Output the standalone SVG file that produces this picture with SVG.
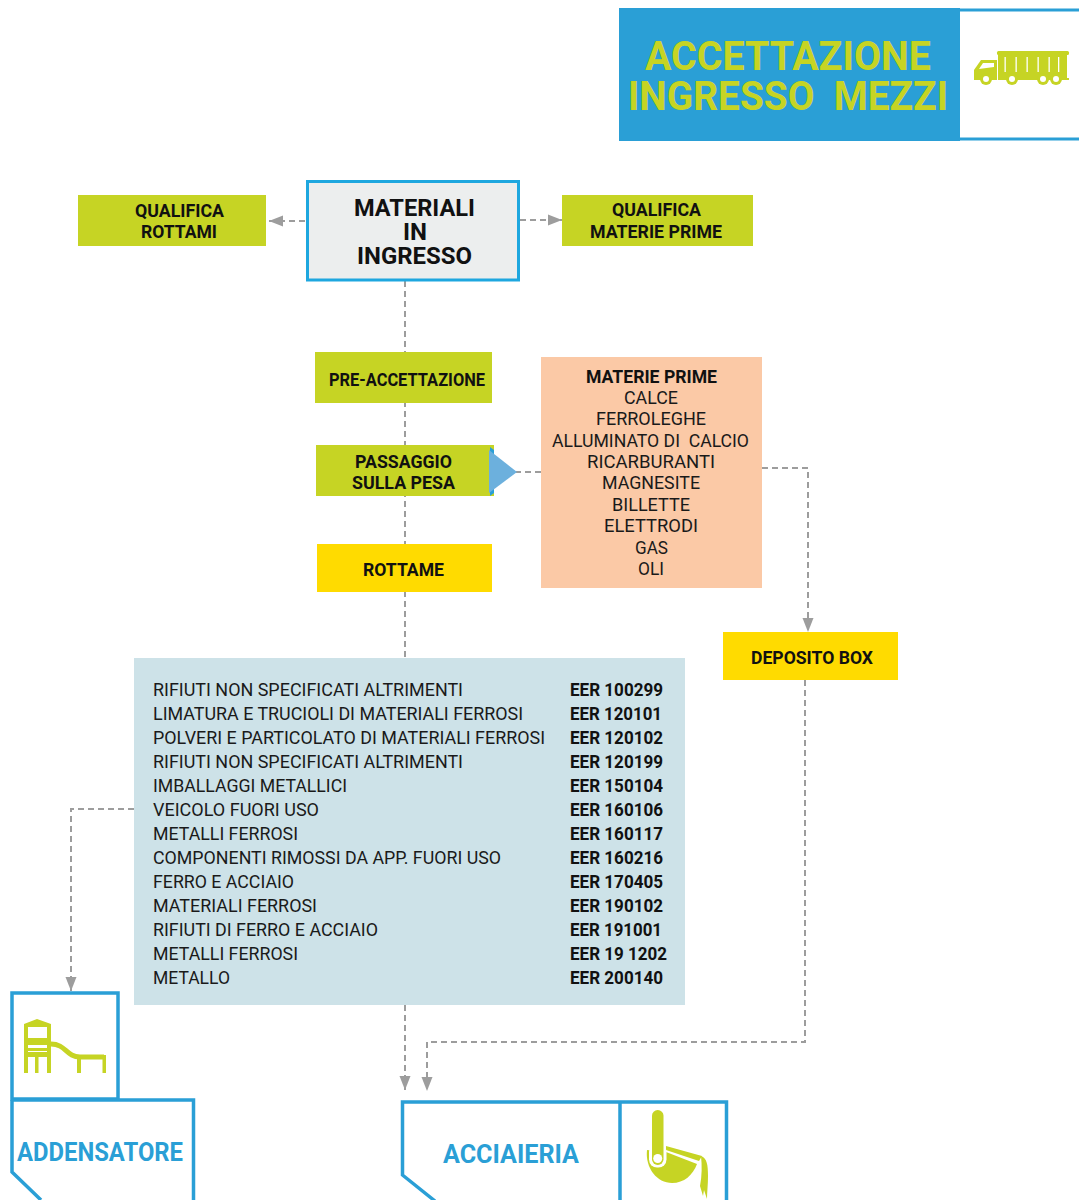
<svg xmlns="http://www.w3.org/2000/svg" width="1079" height="1200" viewBox="0 0 1079 1200">
<defs>
<style>
text{font-family:Roboto,"Liberation Sans",sans-serif;white-space:pre}
.b{font-weight:700;fill:#111;font-size:18px}
.big{font-weight:700;fill:#111;font-size:24px}
.r{font-weight:400;fill:#1a1a1a;font-size:18px}
.h{font-weight:700;fill:#c6d424;font-size:40px}
.t{font-weight:700;fill:#2a9fd6;font-size:25px}
.c{fill:none;stroke:#9d9d9d;stroke-width:2;stroke-dasharray:6 4}
.o{fill:none;stroke:#2a9fd6;stroke-width:3.5}
.g{fill:#c6d424}
.ol{fill:none;stroke:#c6d424}
.w{fill:#fff}
</style>
<marker id="a" markerUnits="userSpaceOnUse" markerWidth="14" markerHeight="12" refX="14" refY="6" orient="auto"><path d="M0 0.500L14 6L0 11.500Z" fill="#9d9d9d"/></marker>
</defs>
<rect width="1079" height="1200" fill="#fff"/>
<g id="connectors">
<path class="c" d="M405 281V658"/>
<path class="c" d="M520 220H562" marker-end="url(#a)"/>
<path class="c" d="M305 221H269" marker-end="url(#a)"/>
<path class="c" d="M541 472H516"/>
<path class="c" d="M762 468H808V632" marker-end="url(#a)"/>
<path class="c" d="M134 809H71V991" marker-end="url(#a)"/>
<path class="c" d="M805 680V1042H427V1091" marker-end="url(#a)"/>
<path class="c" d="M405 1005V1090" marker-end="url(#a)"/>
</g>
<g id="header">
<rect x="619" y="8" width="341" height="133" fill="#2a9fd6"/>
<path d="M960 10H1079M960 139H1079" fill="none" stroke="#2a9fd6" stroke-width="3"/>
<text class="h" x="645" y="70" textLength="286" lengthAdjust="spacingAndGlyphs">ACCETTAZIONE</text>
<text class="h" x="628" y="110" textLength="320" lengthAdjust="spacingAndGlyphs">INGRESSO  MEZZI</text>
<g id="truck-icon">
<rect class="g" x="997" y="51" width="72" height="4" rx="1.5"/>
<rect class="g" x="998" y="54" width="69" height="26"/>
<path class="g" d="M974 80V70L981 60H997V80Z"/>
<rect class="g" x="1000" y="78" width="69" height="2"/>
<path class="w" d="M979 69L983 63H994V67Z"/>
<rect class="w" x="1004.500" y="57" width="1.300" height="15"/><rect class="w" x="1015.500" y="57" width="1.300" height="15"/><rect class="w" x="1026.500" y="57" width="1.300" height="15"/><rect class="w" x="1037.500" y="57" width="1.300" height="15"/><rect class="w" x="1048.500" y="57" width="1.300" height="15"/><rect class="w" x="1058" y="57" width="1.300" height="15"/>
<circle class="g" cx="986" cy="79" r="6"/><circle class="w" cx="986" cy="79" r="3"/>
<circle class="g" cx="1012" cy="79" r="6"/><circle class="w" cx="1012" cy="79" r="3"/>
<circle class="g" cx="1043" cy="79" r="6"/><circle class="w" cx="1043" cy="79" r="3"/>
<circle class="g" cx="1056" cy="79" r="6"/><circle class="w" cx="1056" cy="79" r="3"/>
</g>
</g>
<g id="materiali">
<rect x="307.500" y="181.500" width="211" height="98.500" fill="#eceeee" stroke="#1ea7df" stroke-width="3"/>
<text class="big" x="354" y="216" textLength="121" lengthAdjust="spacingAndGlyphs">MATERIALI</text>
<text class="big" x="403" y="240" textLength="24" lengthAdjust="spacingAndGlyphs">IN</text>
<text class="big" x="357" y="264" textLength="115" lengthAdjust="spacingAndGlyphs">INGRESSO</text>
</g>
<g id="qualifica-rottami">
<rect class="g" x="78" y="195" width="188" height="51"/>
<text class="b" x="135" y="217" textLength="89" lengthAdjust="spacingAndGlyphs">QUALIFICA</text>
<text class="b" x="141" y="238" textLength="76" lengthAdjust="spacingAndGlyphs">ROTTAMI</text>
</g>
<g id="qualifica-materie">
<rect class="g" x="562" y="195" width="191" height="51"/>
<text class="b" x="612" y="216" textLength="89" lengthAdjust="spacingAndGlyphs">QUALIFICA</text>
<text class="b" x="590" y="238" textLength="132" lengthAdjust="spacingAndGlyphs">MATERIE PRIME</text>
</g>
<g id="pre-accettazione">
<rect class="g" x="315" y="352" width="177" height="51"/>
<text class="b" x="329" y="386" textLength="156" lengthAdjust="spacingAndGlyphs">PRE-ACCETTAZIONE</text>
</g>
<g id="pesa">
<rect class="g" x="316" y="445" width="178" height="51"/>
<text class="b" x="355" y="468" textLength="97" lengthAdjust="spacingAndGlyphs">PASSAGGIO</text>
<text class="b" x="352" y="489" textLength="103" lengthAdjust="spacingAndGlyphs">SULLA PESA</text>
<path d="M490 447L494 450V493L490 496Z" fill="#2a9fd6"/>
<path d="M489 450L517 472L489 493Z" fill="#6cb0dd"/>
</g>
<g id="rottame">
<rect x="317" y="544" width="175" height="48" fill="#ffdb00"/>
<text class="b" x="363" y="576" textLength="81" lengthAdjust="spacingAndGlyphs">ROTTAME</text>
</g>
<g id="materie-prime">
<rect x="541" y="357" width="221" height="231" fill="#fbc9a6"/>
<text class="b" x="586" y="383" textLength="131" lengthAdjust="spacingAndGlyphs">MATERIE PRIME</text>
<text class="r" x="624" y="404" textLength="54" lengthAdjust="spacingAndGlyphs">CALCE</text>
<text class="r" x="596" y="425" textLength="110" lengthAdjust="spacingAndGlyphs">FERROLEGHE</text>
<text class="r" x="552" y="447" textLength="197" lengthAdjust="spacingAndGlyphs">ALLUMINATO DI  CALCIO</text>
<text class="r" x="587" y="468" textLength="128" lengthAdjust="spacingAndGlyphs">RICARBURANTI</text>
<text class="r" x="602" y="489" textLength="98" lengthAdjust="spacingAndGlyphs">MAGNESITE</text>
<text class="r" x="612" y="511" textLength="78" lengthAdjust="spacingAndGlyphs">BILLETTE</text>
<text class="r" x="604" y="532" textLength="94" lengthAdjust="spacingAndGlyphs">ELETTRODI</text>
<text class="r" x="635" y="554" textLength="33" lengthAdjust="spacingAndGlyphs">GAS</text>
<text class="r" x="638" y="575" textLength="26" lengthAdjust="spacingAndGlyphs">OLI</text>
</g>
<g id="deposito-box">
<rect x="723" y="632" width="175" height="48" fill="#ffdb00"/>
<text class="b" x="751" y="664" textLength="122" lengthAdjust="spacingAndGlyphs">DEPOSITO BOX</text>
</g>
<g id="rifiuti">
<rect x="134" y="658" width="551" height="347" fill="#cde2e8"/>
<text class="r" x="153" y="696" textLength="310" lengthAdjust="spacingAndGlyphs">RIFIUTI NON SPECIFICATI ALTRIMENTI</text>
<text class="r" x="153" y="720" textLength="370" lengthAdjust="spacingAndGlyphs">LIMATURA E TRUCIOLI DI MATERIALI FERROSI</text>
<text class="r" x="153" y="744" textLength="392" lengthAdjust="spacingAndGlyphs">POLVERI E PARTICOLATO DI MATERIALI FERROSI</text>
<text class="r" x="153" y="768" textLength="310" lengthAdjust="spacingAndGlyphs">RIFIUTI NON SPECIFICATI ALTRIMENTI</text>
<text class="r" x="153" y="792" textLength="194" lengthAdjust="spacingAndGlyphs">IMBALLAGGI METALLICI</text>
<text class="r" x="153" y="816" textLength="166" lengthAdjust="spacingAndGlyphs">VEICOLO FUORI USO</text>
<text class="r" x="153" y="840" textLength="145" lengthAdjust="spacingAndGlyphs">METALLI FERROSI</text>
<text class="r" x="153" y="864" textLength="348" lengthAdjust="spacingAndGlyphs">COMPONENTI RIMOSSI DA APP. FUORI USO</text>
<text class="r" x="153" y="888" textLength="141" lengthAdjust="spacingAndGlyphs">FERRO E ACCIAIO</text>
<text class="r" x="153" y="912" textLength="164" lengthAdjust="spacingAndGlyphs">MATERIALI FERROSI</text>
<text class="r" x="153" y="936" textLength="225" lengthAdjust="spacingAndGlyphs">RIFIUTI DI FERRO E ACCIAIO</text>
<text class="r" x="153" y="960" textLength="145" lengthAdjust="spacingAndGlyphs">METALLI FERROSI</text>
<text class="r" x="153" y="984" textLength="77" lengthAdjust="spacingAndGlyphs">METALLO</text>
<text class="b" x="570" y="696" textLength="93" lengthAdjust="spacingAndGlyphs">EER 100299</text>
<text class="b" x="570" y="720" textLength="92" lengthAdjust="spacingAndGlyphs">EER 120101</text>
<text class="b" x="570" y="744" textLength="93" lengthAdjust="spacingAndGlyphs">EER 120102</text>
<text class="b" x="570" y="768" textLength="93" lengthAdjust="spacingAndGlyphs">EER 120199</text>
<text class="b" x="570" y="792" textLength="93" lengthAdjust="spacingAndGlyphs">EER 150104</text>
<text class="b" x="570" y="816" textLength="93" lengthAdjust="spacingAndGlyphs">EER 160106</text>
<text class="b" x="570" y="840" textLength="93" lengthAdjust="spacingAndGlyphs">EER 160117</text>
<text class="b" x="570" y="864" textLength="93" lengthAdjust="spacingAndGlyphs">EER 160216</text>
<text class="b" x="570" y="888" textLength="93" lengthAdjust="spacingAndGlyphs">EER 170405</text>
<text class="b" x="570" y="912" textLength="93" lengthAdjust="spacingAndGlyphs">EER 190102</text>
<text class="b" x="570" y="936" textLength="92" lengthAdjust="spacingAndGlyphs">EER 191001</text>
<text class="b" x="570" y="960" textLength="97" lengthAdjust="spacingAndGlyphs">EER 19 1202</text>
<text class="b" x="570" y="984" textLength="93" lengthAdjust="spacingAndGlyphs">EER 200140</text>
</g>
<g id="addensatore">
<rect class="o" x="12" y="993" width="106" height="106"/>
<path class="o" d="M12 1100H193.500V1200M12 1100V1172L41 1200"/>
<text class="t" x="17" y="1161" textLength="166" lengthAdjust="spacingAndGlyphs">ADDENSATORE</text>
<g id="addensatore-icon">
<path class="g" d="M24 1073V1024L37 1019L51 1024V1073H47V1057H38.500V1073H35V1057H28V1073Z"/>
<rect class="w" x="28" y="1027" width="19" height="11"/>
<rect class="w" x="28" y="1045" width="19" height="3"/>
<rect class="w" x="28" y="1051" width="19" height="1"/>
<path class="ol" stroke-width="5" d="M51 1044C66 1044 66 1057 80 1057H104"/>
<rect class="g" x="77" y="1057" width="4" height="16"/>
<rect class="g" x="102.500" y="1055" width="3.500" height="18"/>
</g>
</g>
<g id="acciaieria">
<path class="o" d="M435 1201L402.500 1175V1102H726.500V1200M620 1102V1200"/>
<text class="t" x="443" y="1163" textLength="136" lengthAdjust="spacingAndGlyphs">ACCIAIERIA</text>
<g id="acciaieria-icon">
<path class="g" d="M647 1150C645 1168 657 1183 672 1183C684 1183 693 1175 697 1164L666 1152Z"/>
<path class="g" d="M666 1146L702 1156L699 1161L666 1150Z"/>
<rect class="w" x="649" y="1144" width="17.500" height="23.500" rx="8"/>
<rect class="g" x="652" y="1110" width="11.500" height="55" rx="5.700"/>
<circle class="w" cx="657.700" cy="1158.500" r="4.500"/>
<path class="g" d="M701 1156C707 1158 708 1165 708 1176C708 1185 707 1192 707 1199L704 1190L703 1196L700 1186C702 1176 702 1165 701 1156Z"/>
</g>
</g>
</svg>
